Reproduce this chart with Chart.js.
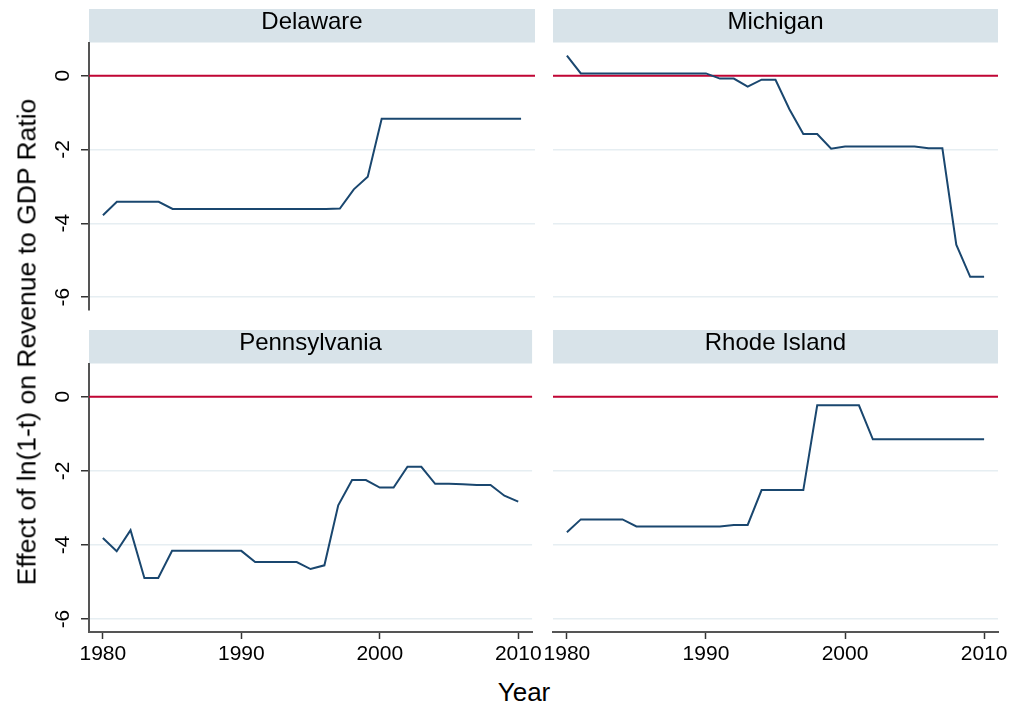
<!DOCTYPE html>
<html>
<head>
<meta charset="utf-8">
<script src="https://cdn.jsdelivr.net/npm/chart.js@4.4.1/dist/chart.umd.min.js"></script>
<style>
html,body{margin:0;padding:0;background:#fff;}
body{width:1013px;height:708px;position:relative;overflow:hidden;font-family:"Liberation Sans",Arial,sans-serif;}
canvas{position:absolute;}
#ytitle{position:absolute;left:27px;top:342px;transform:translate(-50%,-50%) rotate(-90deg);font-size:26.5px;white-space:nowrap;color:#000;}
#xtitle{position:absolute;left:524px;top:692px;transform:translate(-50%,-50%);font-size:26px;color:#000;white-space:nowrap;}
</style>
</head>
<body>
<canvas id="c0" width="505" height="320" style="left:40px;top:0px"></canvas>
<canvas id="c1" width="488" height="320" style="left:525px;top:0px"></canvas>
<canvas id="c2" width="505" height="350" style="left:40px;top:321px"></canvas>
<canvas id="c3" width="488" height="350" style="left:525px;top:321px"></canvas>
<div id="ytitle">Effect of ln(1-t) on Revenue to GDP Ratio</div>
<div id="xtitle">Year</div>
<script>
// ---- data ----
const years = [1980,1981,1982,1983,1984,1985,1986,1987,1988,1989,1990,1991,1992,1993,1994,1995,1996,1997,1998,1999,2000,2001,2002,2003,2004,2005,2006,2007,2008,2009,2010];
const delaware = [-3.78,-3.42,-3.42,-3.42,-3.42,-3.61,-3.61,-3.61,-3.61,-3.61,-3.61,-3.61,-3.61,-3.61,-3.61,-3.61,-3.61,-3.60,-3.08,-2.74,-1.17,-1.17,-1.17,-1.17,-1.17,-1.17,-1.17,-1.17,-1.17,-1.17,-1.17];
const michigan = [0.54,0.06,0.06,0.06,0.06,0.06,0.06,0.06,0.06,0.06,0.06,-0.08,-0.08,-0.30,-0.11,-0.11,-0.91,-1.58,-1.58,-1.98,-1.92,-1.92,-1.92,-1.92,-1.92,-1.92,-1.97,-1.97,-4.58,-5.45,-5.45];
const pennsylvania = [-3.81,-4.17,-3.60,-4.89,-4.89,-4.16,-4.16,-4.16,-4.16,-4.16,-4.16,-4.46,-4.46,-4.46,-4.46,-4.65,-4.55,-2.93,-2.25,-2.25,-2.45,-2.45,-1.89,-1.89,-2.35,-2.35,-2.36,-2.38,-2.38,-2.67,-2.83];
const rhodeIsland = [-3.66,-3.31,-3.31,-3.31,-3.31,-3.50,-3.50,-3.50,-3.50,-3.50,-3.50,-3.50,-3.46,-3.46,-2.52,-2.52,-2.52,-2.52,-0.23,-0.23,-0.23,-0.23,-1.15,-1.15,-1.15,-1.15,-1.15,-1.15,-1.15,-1.15,-1.15];
const panelTitles = ['Delaware','Michigan','Pennsylvania','Rhode Island'];
const xTicks = [1980,1990,2000,2010];
const yTicks = [0,-2,-4,-6];
const refValue = 0;

// ---- styling / layout ----
const FONT = '"Liberation Sans", Arial, sans-serif';
const X_MIN = 1979, X_MAX = 2011, Y_MIN = -6.35, Y_MAX = 0.89;
const LINE_COLOR = '#1a476f', REF_COLOR = '#c10534', STRIP_COLOR = '#d8e3e9', GRID_COLOR = '#e6eef2';

const stripPlugin = {
  id: 'strip',
  beforeDraw(chart) {
    const a = chart.chartArea, t = chart.titleBlock;
    const ctx = chart.ctx;
    ctx.save();
    ctx.fillStyle = STRIP_COLOR;
    ctx.fillRect(a.left, t.top + 1, a.right - a.left, a.top - t.top - 1.3);
    ctx.restore();
  }
};
const refPlugin = {
  id: 'refline',
  beforeDatasetsDraw(chart) {
    const a = chart.chartArea, y = chart.scales.y.getPixelForValue(refValue);
    const ctx = chart.ctx;
    ctx.save();
    ctx.strokeStyle = REF_COLOR;
    ctx.lineWidth = 2;
    ctx.beginPath();
    ctx.moveTo(a.left, y);
    ctx.lineTo(a.right, y);
    ctx.stroke();
    ctx.restore();
  }
};
const yLabelPlugin = {
  id: 'ylabels',
  afterDraw(chart, args, opts) {
    if (!opts.show) return;
    const ctx = chart.ctx, s = chart.scales.y, a = chart.chartArea;
    ctx.save();
    ctx.font = '21px ' + FONT;
    ctx.fillStyle = '#000';
    ctx.textAlign = 'center';
    ctx.textBaseline = 'middle';
    yTicks.forEach(v => {
      const y = s.getPixelForValue(v);
      ctx.save();
      ctx.translate(a.left - 26, y);
      ctx.rotate(-Math.PI / 2);
      ctx.fillText(String(v), 0, 0);
      ctx.restore();
    });
    ctx.restore();
  }
};

function makePanel(id, title, values, showY, showX, padLeft, padRight, padBottom, yWidth) {
  return new Chart(document.getElementById(id), {
    type: 'line',
    data: {
      datasets: [{
        data: years.map((x, i) => ({x: x, y: values[i]})),
        borderColor: LINE_COLOR,
        borderWidth: 2,
        pointRadius: 0,
        tension: 0,
        fill: false
      }]
    },
    options: {
      responsive: false,
      animation: false,
      devicePixelRatio: 1,
      events: [],
      layout: {padding: {top: 8, left: padLeft, right: padRight, bottom: padBottom}},
      plugins: {
        legend: {display: false},
        tooltip: {enabled: false},
        title: {
          display: true, text: title, fullSize: false,
          color: '#000', font: {family: FONT, size: 24, weight: 'normal', lineHeight: 1.2},
          padding: {top: 0, bottom: 6}
        },
        ylabels: {show: showY}
      },
      scales: {
        x: {
          type: 'linear', min: X_MIN, max: X_MAX, display: showX,
          afterBuildTicks: s => { s.ticks = xTicks.map(v => ({value: v})); },
          afterFit: s => { s.height = showX ? 39 : 0; },
          grid: {drawOnChartArea: false, drawTicks: true, tickLength: 7, color: '#333', tickColor: '#333', tickWidth: 1.5},
          border: {display: true, color: '#555', width: 2},
          ticks: {font: {family: FONT, size: 21}, color: '#000', padding: 3, maxRotation: 0, autoSkip: false, callback: v => String(v)}
        },
        y: {
          type: 'linear', min: Y_MIN, max: Y_MAX,
          afterBuildTicks: s => { s.ticks = yTicks.map(v => ({value: v})); },
          afterFit: s => { s.width = yWidth; },
          grid: {color: GRID_COLOR, lineWidth: 1.5, drawTicks: showY, tickLength: 8, tickColor: '#333', tickWidth: 1.5},
          border: {display: showY, color: '#555', width: 2},
          ticks: {display: false}
        }
      }
    },
    plugins: [stripPlugin, refPlugin, yLabelPlugin]
  });
}

makePanel('c0', panelTitles[0], delaware, true, false, 0, 10, 10, 49);
makePanel('c1', panelTitles[1], michigan, false, false, 28, 15, 10, 0);
makePanel('c2', panelTitles[2], pennsylvania, true, true, 0, 10, 0, 49);
makePanel('c3', panelTitles[3], rhodeIsland, false, true, 28, 15, 0, 0);
</script>
</body>
</html>
